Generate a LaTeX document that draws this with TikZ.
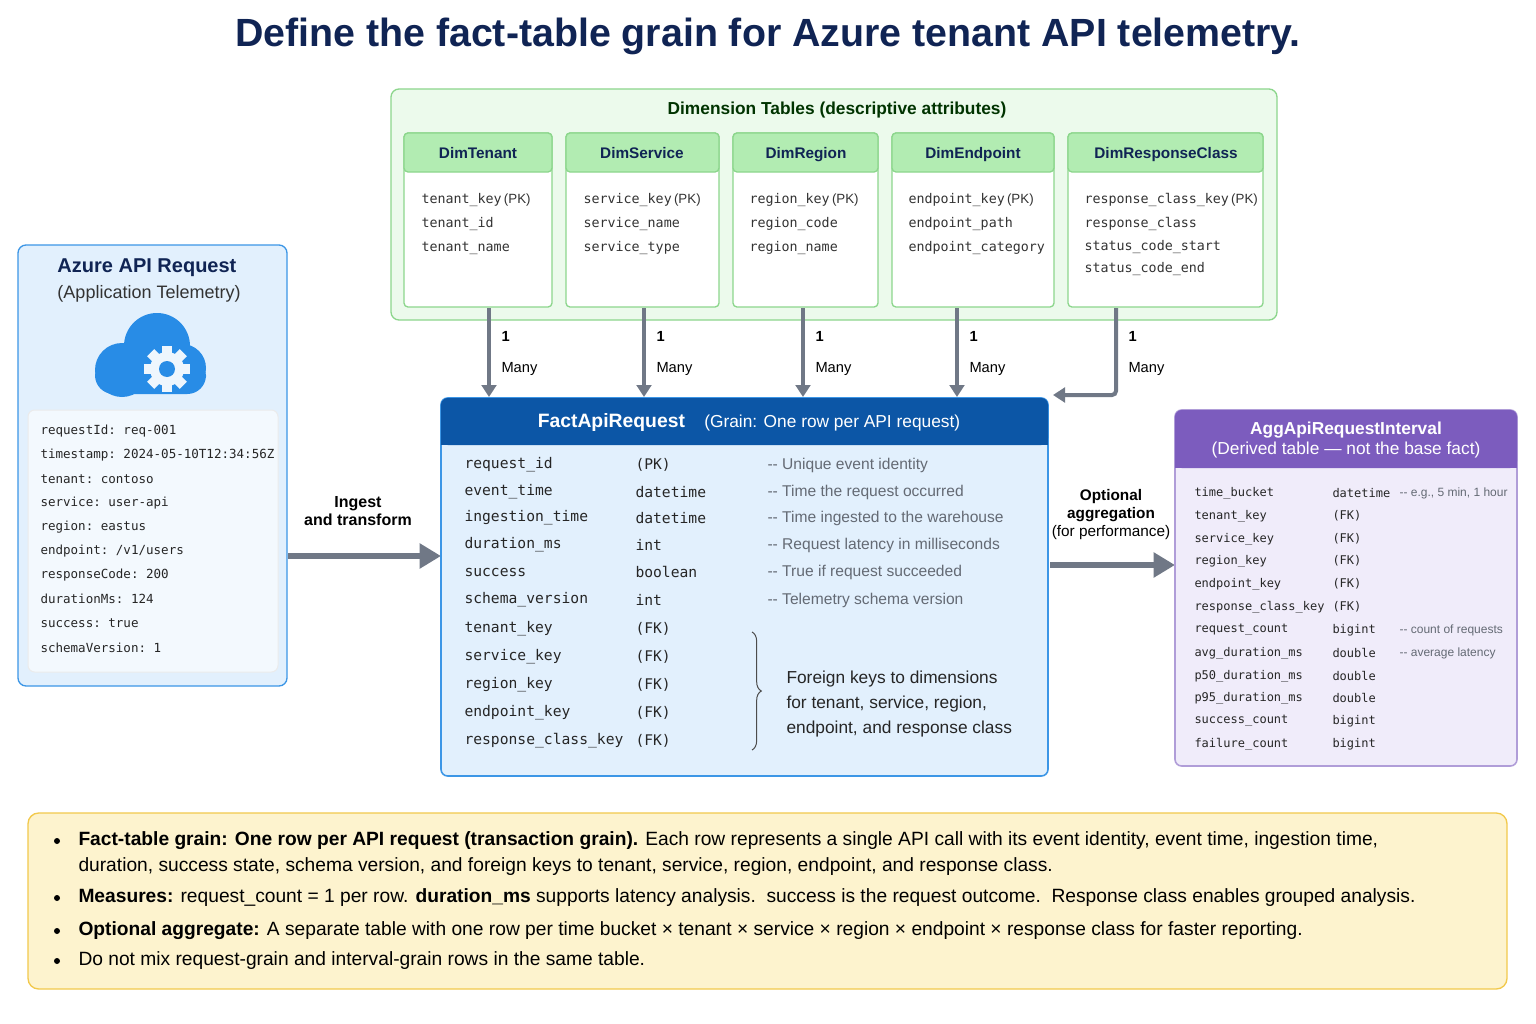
\documentclass[tikz,border=0pt]{standalone}
\usepackage{fontspec}
\setmainfont{Liberation Sans}
\setmonofont{DejaVu Sans Mono}
\usetikzlibrary{arrows.meta,decorations.pathreplacing}
\definecolor{navy}{RGB}{16,36,84}
\definecolor{dimfill}{RGB}{236,250,236}
\definecolor{dimline}{RGB}{140,214,140}
\definecolor{dimhead}{RGB}{178,236,178}
\definecolor{factblue}{RGB}{12,86,166}
\definecolor{factfill}{RGB}{226,240,253}
\definecolor{factline}{RGB}{60,150,230}
\definecolor{aggpurple}{RGB}{124,92,190}
\definecolor{aggfill}{RGB}{240,236,250}
\definecolor{notefill}{RGB}{253,243,206}
\definecolor{noteline}{RGB}{242,201,76}
\definecolor{arrowgray}{RGB}{112,120,134}
\definecolor{cloudblue}{RGB}{40,140,230}
\definecolor{commentgray}{RGB}{100,106,116}
\newcommand{\pk}{\textrm{\,(PK)}}
\newcommand{\dd}{-{}-\ }
\tikzset{every picture/.style={line width=0.75pt}}
\tikzset{
  dimbox/.style={draw=dimline,fill=white,rounded corners=3pt,line width=1pt},
  dimhd/.style={draw=dimline,fill=dimhead,rounded corners=3pt,line width=1pt},
  dimtitle/.style={anchor=base,font=\fontsize{11.5}{13}\selectfont\bfseries,text=navy},
  mono/.style={anchor=west,inner sep=0.75pt,font=\fontsize{10}{12}\ttfamily,text=black!80},
  factmono/.style={anchor=west,inner sep=0.75pt,font=\fontsize{11}{13}\ttfamily,text=black!85},
  factnote/.style={anchor=west,inner sep=0.75pt,font=\fontsize{11.7}{14}\selectfont,text=commentgray},
  aggmono/.style={anchor=west,inner sep=0.75pt,font=\fontsize{9}{11}\ttfamily,text=black!85},
  aggnote/.style={anchor=west,inner sep=0.75pt,font=\fontsize{9}{11}\selectfont,text=commentgray},
  leftmono/.style={anchor=west,inner sep=0.75pt,font=\fontsize{9.4}{11}\ttfamily,text=black!85},
  onelbl/.style={anchor=west,inner sep=0.75pt,font=\fontsize{11}{13}\selectfont\bfseries},
  manylbl/.style={anchor=west,inner sep=0.75pt,font=\fontsize{11}{13}\selectfont},
  relarrow/.style={draw=arrowgray,line width=3pt,-{Triangle[length=9pt,width=11pt]}},
  bigarrow/.style={draw=arrowgray,line width=5pt,-{Triangle[length=16pt,width=18pt]}},
  bullet/.style={anchor=west,inner sep=0.75pt,font=\fontsize{14.4}{17}\selectfont},
}
\begin{document}
\begin{tikzpicture}[x=0.75pt,y=0.75pt,yscale=-1,xscale=1]
\useasboundingbox[fill=white] (0,0) rectangle (1536,1024);

% Title
\node (title) at (768,36) {\fontsize{29.5}{34}\selectfont\bfseries\color{navy}Define the fact-table grain for Azure tenant API telemetry.};

% Dimension group
\draw [draw=dimline,fill=dimfill,rounded corners=6pt,line width=1pt] (391,89) rectangle (1277,320);
\node (dimgroup) at (837,110) {\fontsize{13}{15}\selectfont\bfseries\color{black!80!green}Dimension Tables (descriptive attributes)};

% DimTenant
\draw [dimbox] (404,133) rectangle (552,307);
\draw [dimhd] (404,133) rectangle (552,172);
\node [dimtitle] (dtenant) at (478,158) {DimTenant};
\node [mono] (dt1) at (420,200) {tenant\_key\pk};
\node [mono] (dt2) at (420,224) {tenant\_id};
\node [mono] (dt3) at (420,248) {tenant\_name};
% DimService
\draw [dimbox] (566,133) rectangle (719,307);
\draw [dimhd] (566,133) rectangle (719,172);
\node [dimtitle] (dservice) at (642,158) {DimService};
\node [mono] (ds1) at (582,200) {service\_key\pk};
\node [mono] (ds2) at (582,224) {service\_name};
\node [mono] (ds3) at (582,248) {service\_type};
% DimRegion
\draw [dimbox] (733,133) rectangle (878,307);
\draw [dimhd] (733,133) rectangle (878,172);
\node [dimtitle] (dregion) at (806,158) {DimRegion};
\node [mono] (dr1) at (748,200) {region\_key\pk};
\node [mono] (dr2) at (748,224) {region\_code};
\node [mono] (dr3) at (748,248) {region\_name};
% DimEndpoint
\draw [dimbox] (892,133) rectangle (1054,307);
\draw [dimhd] (892,133) rectangle (1054,172);
\node [dimtitle] (dendpoint) at (973,158) {DimEndpoint};
\node [mono] (de1) at (907,200) {endpoint\_key\pk};
\node [mono] (de2) at (907,224) {endpoint\_path};
\node [mono] (de3) at (907,248) {endpoint\_category};
% DimResponseClass
\draw [dimbox] (1068,133) rectangle (1263,307);
\draw [dimhd] (1068,133) rectangle (1263,172);
\node [dimtitle] (dresponse) at (1166,158) {DimResponseClass};
\node [mono] (dc1) at (1083,200) {response\_class\_key\pk};
\node [mono] (dc2) at (1083,224) {response\_class};
\node [mono] (dc3) at (1083,247) {status\_code\_start};
\node [mono] (dc4) at (1083,269) {status\_code\_end};

% Relationship arrows
\coordinate (t0) at (489,308); \coordinate (t1) at (489,397);
\coordinate (s0) at (644,308); \coordinate (s1) at (644,397);
\coordinate (r0) at (803,308); \coordinate (r1) at (803,397);
\coordinate (e0) at (957,308); \coordinate (e1) at (957,397);
\coordinate (c0) at (1116,308); \coordinate (c1) at (1053,395);
\draw [relarrow] (t0) -- (t1);
\draw [relarrow] (s0) -- (s1);
\draw [relarrow] (r0) -- (r1);
\draw [relarrow] (e0) -- (e1);
\draw [relarrow,rounded corners=3pt] (c0) |- (c1);
\foreach \x/\n in {500/a,655/b,814/c,968/d,1127/e}{
  \node [onelbl] (one\n) at (\x,336) {1};
  \node [manylbl] (many\n) at (\x,369) {Many};
}

% Azure API Request
\draw [draw=factline,fill=factfill,rounded corners=6pt,line width=1pt] (18,245) rectangle (287,686);
\node [anchor=west,inner sep=0.75pt] (srctitle) at (56,268) {\fontsize{15}{18}\selectfont\bfseries\color{navy}Azure API Request};
\node [anchor=west,inner sep=0.75pt] (srcsub) at (56,294) {\fontsize{13.5}{16}\selectfont\color{black!80}(Application Telemetry)};
% cloud icon
\fill [cloudblue] (122,370) circle (27) (157,346) circle (33) (182,368) circle (24);
\fill [cloudblue,rounded corners=14pt] (95,358) rectangle (206,394);
\begin{scope}[shift={(167,369)}]
  \fill [white!92!cloudblue] (0,0) circle (17);
  \foreach \a in {0,45,...,315}{
    \fill [white!92!cloudblue,rotate=\a] (-5,-23) rectangle (5,0);
  }
  \fill [cloudblue] (0,0) circle (8);
\end{scope}
\draw [draw=black!8,fill=white!60!factfill,rounded corners=5pt] (28,410) rectangle (278,672);
\node [leftmono] (l1) at (39,431) {requestId: req-001};
\node [leftmono] (l2) at (39,455) {timestamp: 2024-05-10T12:34:56Z};
\node [leftmono] (l3) at (39,479) {tenant: contoso};
\node [leftmono] (l4) at (39,503) {service: user-api};
\node [leftmono] (l5) at (39,527) {region: eastus};
\node [leftmono] (l6) at (39,551) {endpoint: /v1/users};
\node [leftmono] (l7) at (39,575) {responseCode: 200};
\node [leftmono] (l8) at (39,599) {durationMs: 124};
\node [leftmono] (l9) at (39,623) {success: true};
\node [leftmono] (l10) at (39,648) {schemaVersion: 1};

% Ingest arrow
\coordinate (ing0) at (288,556); \coordinate (ing1) at (441,556);
\draw [bigarrow] (ing0) -- (ing1);
\node [align=center,font=\fontsize{12}{14}\selectfont\bfseries] (ingest) at (358,511) {Ingest\\and transform};

% Fact table
\draw [draw=factline,fill=factfill,rounded corners=5pt,line width=1.2pt] (441,398) rectangle (1048,776);
\fill [factblue,rounded corners=5pt] (441,398) rectangle (1048,445);
\fill [factblue] (441,425) rectangle (1048,445);
\node (facttitle) at (749,422) {\color{white}\fontsize{14.5}{17}\selectfont\bfseries FactApiRequest\quad\mdseries\fontsize{13}{16}\selectfont(Grain: One row per API request)};
\foreach \y/\c/\t/\n [count=\i] in {
  465/request\_id/(PK)/{\dd Unique event identity},
  492/event\_time/datetime/{\dd Time the request occurred},
  518/ingestion\_time/datetime/{\dd Time ingested to the warehouse},
  545/duration\_ms/int/{\dd Request latency in milliseconds},
  572/success/boolean/{\dd True if request succeeded},
  600/schema\_version/int/{\dd Telemetry schema version}}{
  \node [factmono] (fc\i) at (463,\y) {\c};
  \node [factmono] (ft\i) at (634,\y) {\t};
  \node [factnote] (fn\i) at (766,\y) {\n};
}
\foreach \y/\c [count=\i] in {629/tenant\_key,657/service\_key,685/region\_key,713/endpoint\_key,741/response\_class\_key}{
  \node [factmono] (fk\i) at (463,\y) {\c};
  \node [factmono] (fkt\i) at (634,\y) {(FK)};
}
\coordinate (br0) at (752,632); \coordinate (br1) at (752,750);
\draw [black!70,decorate,decoration={brace,amplitude=7pt}] (br0) -- (br1);
\node [anchor=west,align=left,inner sep=0.75pt,font=\fontsize{13}{18.5}\selectfont,text=black!85] (fknote) at (785,704) {Foreign keys to dimensions\\for tenant, service, region,\\endpoint, and response class};

% Optional aggregation arrow
\coordinate (opt0) at (1050,565); \coordinate (opt1) at (1175,565);
\draw [bigarrow] (opt0) -- (opt1);
\node [align=center,font=\fontsize{11.5}{13.5}\selectfont\bfseries] (optlbl) at (1111,515) {Optional\\aggregation\\\mdseries(for performance)};

% Aggregate table
\draw [draw=aggpurple!60,fill=aggfill,rounded corners=5pt,line width=1.2pt] (1175,410) rectangle (1517,766);
\fill [aggpurple,rounded corners=5pt] (1175,410) rectangle (1517,468);
\fill [aggpurple] (1175,445) rectangle (1517,468);
\node [align=center,text=white,font=\fontsize{13}{15.5}\selectfont] (aggtitle) at (1346,440) {\bfseries AggApiRequestInterval\\(Derived table — not the base fact)};
\foreach \y/\c/\t/\n [count=\i] in {
  493/time\_bucket/datetime/{\dd e.g., 5 min, 1 hour},
  516/tenant\_key/(FK)/{},
  539/service\_key/(FK)/{},
  561/region\_key/(FK)/{},
  584/endpoint\_key/(FK)/{},
  607/response\_class\_key/(FK)/{},
  630/request\_count/bigint/{\dd count of requests},
  653/avg\_duration\_ms/double/{\dd average latency},
  676/p50\_duration\_ms/double/{},
  698/p95\_duration\_ms/double/{},
  721/success\_count/bigint/{},
  744/failure\_count/bigint/{}}{
  \node [aggmono] (ac\i) at (1193,\y) {\c};
  \node [aggmono] (at\i) at (1331,\y) {\t};
  \node [aggnote] (an\i) at (1398,\y) {\n};
}

% Notes
\draw [draw=noteline,fill=notefill,rounded corners=8pt,line width=1pt] (28,813) rectangle (1507,989);
\foreach \y in {841,898,931,961}{ \fill (57,\y) circle (3); }
\node [bullet] (n1) at (77,841) {\textbf{Fact-table grain: One row per API request (transaction grain).} Each row represents a single API call with its event identity, event time, ingestion time,};
\node [bullet] (n1b) at (77,867) {duration, success state, schema version, and foreign keys to tenant, service, region, endpoint, and response class.};
\node [bullet] (n2) at (77,898) {\textbf{Measures:} request\_count = 1 per row. \textbf{duration\_ms} supports latency analysis.\ \ success is the request outcome.\ \ Response class enables grouped analysis.};
\node [bullet] (n3) at (77,931) {\textbf{Optional aggregate:} A separate table with one row per time bucket × tenant × service × region × endpoint × response class for faster reporting.};
\node [bullet] (n4) at (77,961) {Do not mix request-grain and interval-grain rows in the same table.};
\end{tikzpicture}
\end{document}
